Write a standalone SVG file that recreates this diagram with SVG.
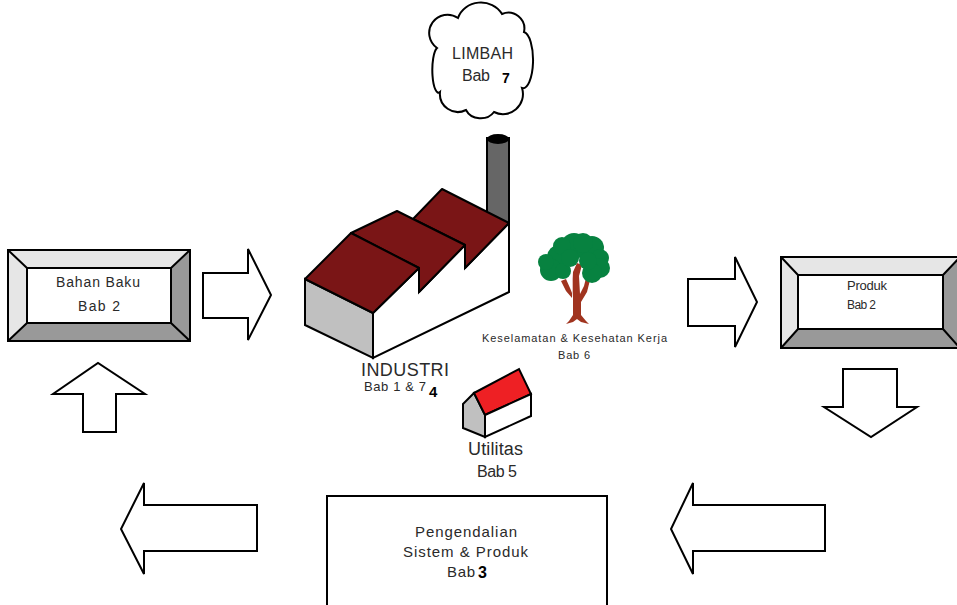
<svg xmlns="http://www.w3.org/2000/svg" width="957" height="605" viewBox="0 0 957 605">
<style>
.ln{stroke:#000;stroke-width:2;stroke-linejoin:miter}
.arrow{fill:#fff;stroke:#000;stroke-width:2;stroke-linejoin:miter}
.t{font-family:"Liberation Sans",Arial,sans-serif;fill:#2a2a2a}
.b{font-family:"Liberation Sans",Arial,sans-serif;font-weight:bold;fill:#000}
.light{fill:#e6e6e6}
.dark{fill:#999}
.roof{fill:#7a1516;stroke:#000;stroke-width:2;stroke-linejoin:round}
</style>
<rect width="957" height="605" fill="#fff"/>

<g id="connectors">
<path class="arrow" d="M203,273 H248 V249 L271,295 L248,340 V318 H203 Z"/>
<path class="arrow" d="M688,279 H735 V257 L757,302 L735,347 V326 H688 Z"/>
<path class="arrow" d="M843,369 H897 V407 H917 L871,437 L824,407 H843 Z"/>
<path class="arrow" d="M825,505 V551 H693 V574 L671,529 L693,483 V505 Z"/>
<path class="arrow" d="M257,505 V551 H144 V574 L121,529 L144,483 V505 Z"/>
<path class="arrow" d="M83,432 V394 H53 L98,363 L145,394 H116 V432 Z"/>
</g>

<g id="bahan-baku">
<rect x="8" y="250" width="182" height="91" fill="#fff"/>
<polygon class="light" points="8,250 190,250 171,268 27,268"/>
<polygon class="light" points="8,250 27,268 27,323 8,341"/>
<polygon class="dark" points="190,250 190,341 171,323 171,268"/>
<polygon class="dark" points="8,341 27,323 171,323 190,341"/>
<g fill="none" class="ln">
<rect x="8" y="250" width="182" height="91"/>
<rect x="27" y="268" width="144" height="55"/>
<path d="M8,250 L27,268 M190,250 L171,268 M8,341 L27,323 M190,341 L171,323"/>
</g>
<text class="t" x="56" y="287" font-size="14" textLength="84">Bahan Baku</text>
<text class="t" x="78" y="311" font-size="14" textLength="42">Bab 2</text>
</g>

<g id="produk">
<rect x="781" y="257" width="179" height="91" fill="#fff"/>
<polygon class="light" points="781,257 960,257 943,275 798,275"/>
<polygon class="light" points="781,257 798,275 798,329 781,348"/>
<polygon class="dark" points="960,257 960,348 943,329 943,275"/>
<polygon class="dark" points="781,348 798,329 943,329 960,348"/>
<g fill="none" class="ln">
<rect x="781" y="257" width="179" height="91"/>
<rect x="798" y="275" width="145" height="54"/>
<path d="M781,257 L798,275 M960,257 L943,275 M781,348 L798,329 M960,348 L943,329"/>
</g>
<text class="t" x="847" y="290" font-size="13" textLength="40">Produk</text>
<text class="t" x="847" y="309" font-size="12" textLength="29">Bab 2</text>
</g>

<g id="limbah">
<path fill="#fff" class="ln" d="M437,48 A18,18 0 0 1 458,18 A24,22 0 0 1 502,14 A16,16 0 0 1 524,32 A10,28 0 0 1 522,88 A20,20 0 0 1 494,112 A16,14 0 0 1 466,110 A18,18 0 0 1 440,92 A6,22 0 0 1 437,48 Z"/>
<text class="t" x="452" y="59" font-size="16" textLength="61">LIMBAH</text>
<text class="t" x="462" y="81" font-size="16" textLength="28">Bab</text>
<text class="b" x="502" y="83" font-size="14">7</text>
</g>

<g id="industri">
<rect x="487" y="138" width="22" height="92" fill="#666" class="ln"/>
<ellipse cx="498" cy="139" rx="11" ry="5" fill="#000"/>
<polygon fill="#fff" class="ln" points="373,313 419,268 419,292 465,245 465,268 509,223 509,292 373,358"/>
<polygon fill="#c0c0c0" class="ln" points="305,279 373,313 373,358 305,325"/>
<polygon class="roof" points="442,189 509,223 465,268 465,245 413,219"/>
<polygon class="roof" points="397,211 465,245 419,292 419,268 351,233"/>
<polygon class="roof" points="351,233 419,268 373,313 305,279"/>
<text class="t" x="361" y="376" font-size="18" textLength="88" fill="#444">INDUSTRI</text>
<text class="t" x="364" y="391" font-size="13" textLength="62">Bab 1 &amp; 7</text>
<text class="b" x="429" y="397" font-size="15">4</text>
</g>

<g id="k3">
<path fill="#a0341f" d="M573,279 L572,298 L566,291 L561,281 L566,279 L570,288 L572,293 L573,272 L577,263 L582,265 L579,276 L580,294 L584,286 L586,278 L590,280 L587,292 L581,302 L581,315 L586,321 L589,324 L581,322 L577,319 L573,322 L566,324 L569,321 L573,315 Z"/>
<g fill="#078240">
<circle cx="559" cy="257" r="12"/>
<circle cx="574" cy="246" r="13"/>
<circle cx="592" cy="248" r="12"/>
<circle cx="583" cy="243" r="10"/>
<circle cx="562" cy="246" r="9"/>
<circle cx="600" cy="258" r="9"/>
<circle cx="600" cy="268" r="10"/>
<circle cx="551" cy="270" r="11"/>
<circle cx="546" cy="262" r="8"/>
<circle cx="563" cy="271" r="8"/>
<circle cx="592" cy="273" r="10"/>
<circle cx="588" cy="261" r="9"/>
<circle cx="570" cy="258" r="9"/>
</g>
<text class="t" x="482" y="342" font-size="11" textLength="185">Keselamatan &amp; Kesehatan Kerja</text>
<text class="t" x="558" y="359" font-size="11" textLength="32">Bab 6</text>
</g>

<g id="utilitas">
<polygon fill="#c0c0c0" class="ln" points="463,404 474,393 485,415 485,437 463,428"/>
<polygon fill="#ee2024" class="ln" points="474,393 519,369 531,394 485,415"/>
<polygon fill="#fff" class="ln" points="485,415 531,394 531,416 485,437"/>
<text class="t" x="468" y="455" font-size="18" textLength="55">Utilitas</text>
<text class="t" x="477" y="477" font-size="16" textLength="40">Bab 5</text>
</g>

<g id="pengendalian">
<rect x="327" y="496" width="280" height="130" fill="#fff" class="ln"/>
<text class="t" x="415" y="537" font-size="15" textLength="102">Pengendalian</text>
<text class="t" x="403" y="557" font-size="15" textLength="125">Sistem &amp; Produk</text>
<text class="t" x="447" y="577" font-size="15" textLength="28">Bab</text>
<text class="b" x="478" y="578" font-size="16">3</text>
</g>
</svg>
